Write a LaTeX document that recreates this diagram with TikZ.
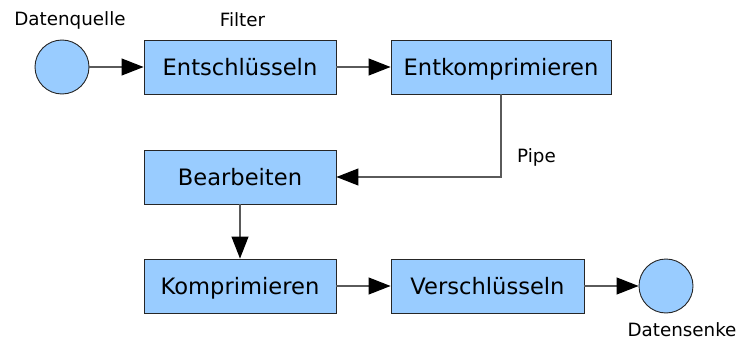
\documentclass[tikz,border=0pt]{standalone}
\usepackage{fontspec}
\setmainfont{DejaVu Sans}
\usetikzlibrary{arrows.meta}
\definecolor{boxfill}{HTML}{99CCFF}
\definecolor{wire}{HTML}{5A5A5A}
\begin{document}
\begin{tikzpicture}[x=1pt,y=-1pt,
  filterbox/.style={draw=black!85,line width=0.9pt,fill=boxfill,minimum height=54pt,
    inner sep=0pt,text height=17.2pt,text depth=0pt,font=\fontsize{22.6}{26}\selectfont},
  endpoint/.style={circle,draw=black!85,line width=0.9pt,fill=boxfill,minimum size=54pt,inner sep=0pt},
  caption/.style={font=\fontsize{18.3}{22}\selectfont},
  pipe/.style={draw=wire,line width=1.1pt,-{Triangle[length=22pt,width=17pt,color=black]}}]
\useasboundingbox (0,0) rectangle (740,340);
% sources and sinks
\node[endpoint] (src) at (62,67) {};
\node[endpoint] (snk) at (666,286) {};
% filter stages
\node[filterbox,minimum width=192pt] (dec) at (240,67) {Entschlüsseln};
\node[filterbox,minimum width=220pt] (unz) at (501,67) {Entkomprimieren};
\node[filterbox,minimum width=192pt] (edit) at (240,177) {Bearbeiten};
\node[filterbox,minimum width=192pt] (zip) at (240,286) {Komprimieren};
\node[filterbox,minimum width=193pt] (enc) at (487.5,286) {Verschlüsseln};
% captions
\node[caption] (lsrc) at (70,20) {Datenquelle};
\node[caption] (lflt) at (242.5,20) {Filter};
\node[caption] (lpipe) at (536.5,157) {Pipe};
\node[caption] (lsnk) at (682,330) {Datensenke};
% pipes
\draw[pipe] (src) -- (dec);
\draw[pipe] (dec) -- (unz);
\draw[pipe] (unz.south) |- (edit.east);
\draw[pipe] (edit) -- (zip);
\draw[pipe] (zip) -- (enc);
\draw[pipe] (enc) -- (snk);
\end{tikzpicture}
\end{document}
